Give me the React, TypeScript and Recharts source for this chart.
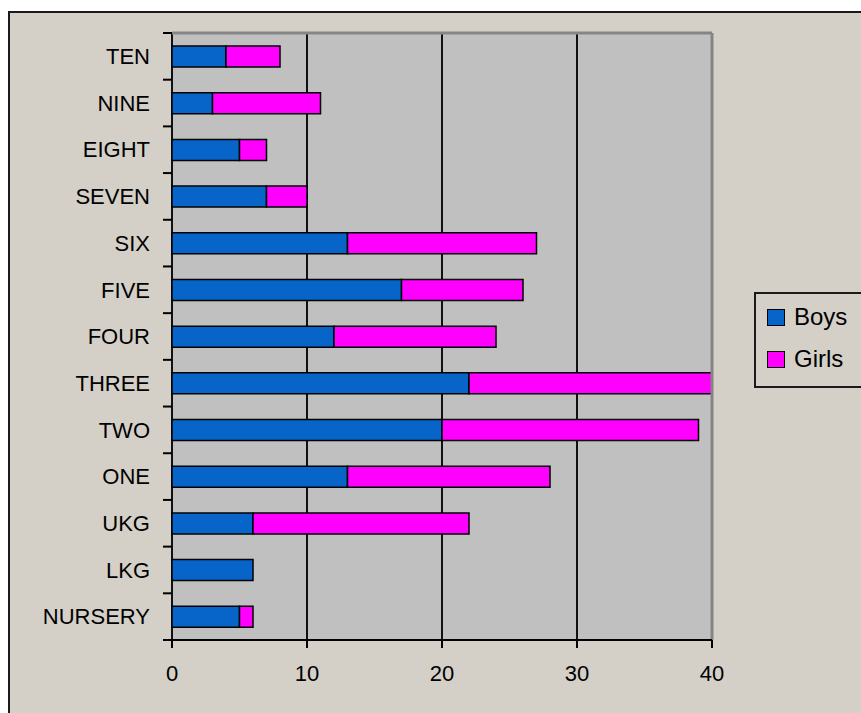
import React from 'react';
import { BarChart, Bar, XAxis, YAxis, CartesianGrid, ReferenceLine } from 'recharts';

const categories = ['TEN', 'NINE', 'EIGHT', 'SEVEN', 'SIX', 'FIVE', 'FOUR', 'THREE', 'TWO', 'ONE', 'UKG', 'LKG', 'NURSERY'];
const boys = [4, 3, 5, 7, 13, 17, 12, 22, 20, 13, 6, 6, 5];
const girls = [4, 8, 2, 3, 14, 9, 12, 18, 19, 15, 16, 0, 1];
const xTicks = [0, 10, 20, 30, 40];
const seriesNames = ['Boys', 'Girls'];
const seriesColors = ['#0764c9', '#ff00ff'];

const data = categories.map((c, i) => ({ name: c, Boys: boys[i], Girls: girls[i] }));

const FONT = '"Liberation Sans", Arial, sans-serif';
const LABEL_GAP = 22;
const TICK_LEN = 9;

const CatTick = (props: any) => {
  const { x, y, payload, index } = props;
  const half = (payload && payload.offset) || 0;
  const axisX = x + LABEL_GAP;
  const isLast = index === categories.length - 1;
  return (
    <g>
      <line x1={axisX - TICK_LEN} x2={axisX} y1={y - half} y2={y - half} stroke="#000" strokeWidth={2} />
      {isLast && <line x1={axisX - TICK_LEN} x2={axisX} y1={y + half} y2={y + half} stroke="#000" strokeWidth={2} />}
      <text x={x} y={y} dy="0.35em" textAnchor="end" fontSize={22} fill="#000" fontFamily={FONT}>
        {payload.value}
      </text>
    </g>
  );
};

export default function App() {
  return (
    <div style={{ position: 'fixed', left: 0, top: 0, width: 861, height: 713, background: '#ffffff', overflow: 'hidden', fontFamily: FONT }}>
      <div style={{ position: 'absolute', left: 8, top: 11, width: 900, height: 760, border: '2px solid #1a1a1a', background: '#d4d0c8' }} />
      <div style={{ position: 'absolute', left: 0, top: 0 }}>
        <BarChart
          width={861}
          height={713}
          data={data}
          layout="vertical"
          barSize={21}
          margin={{ top: 33, right: 149, bottom: 33, left: 12 }}
        >
          <CartesianGrid horizontal={false} vertical={true} stroke="#111" strokeWidth={2} fill="#c0c0c0" fillOpacity={1} />
          <YAxis
            yAxisId="cat"
            type="category"
            dataKey="name"
            width={160}
            interval={0}
            axisLine={false}
            tickLine={false}
            tickSize={0}
            tickMargin={LABEL_GAP}
            tick={<CatTick />}
          />
          <XAxis
            type="number"
            domain={[0, 40]}
            ticks={xTicks}
            interval={0}
            height={40}
            tickSize={8}
            tickMargin={17}
            axisLine={{ stroke: '#000', strokeWidth: 2 }}
            tickLine={{ stroke: '#000', strokeWidth: 2 }}
            tick={{ fontSize: 22, fill: '#000', fontFamily: FONT }}
          />
          <ReferenceLine yAxisId="cat" x={40} stroke="#858585" strokeWidth={3} />
          <ReferenceLine yAxisId="cat" y="TEN" position="start" stroke="#858585" strokeWidth={3} />
          <Bar yAxisId="cat" dataKey="Boys" stackId="s" fill={seriesColors[0]} stroke="#000" strokeWidth={1.5} isAnimationActive={false} />
          <Bar yAxisId="cat" dataKey="Girls" stackId="s" fill={seriesColors[1]} stroke="#000" strokeWidth={1.5} isAnimationActive={false} />
        </BarChart>
      </div>
      <div style={{ position: 'absolute', left: 754, top: 292, width: 200, height: 92, border: '2px solid #1a1a1a', background: '#d4d0c8' }}>
        {seriesNames.map((n, i) => (
          <div key={n} style={{ position: 'absolute', left: 11, top: 9 + i * 42, height: 28, display: 'flex', alignItems: 'center' }}>
            <div style={{ width: 16, height: 15, background: seriesColors[i], border: '1.5px solid #000', marginRight: 9 }} />
            <span style={{ fontSize: 24, color: '#000', fontFamily: FONT, lineHeight: '28px' }}>{n}</span>
          </div>
        ))}
      </div>
    </div>
  );
}
